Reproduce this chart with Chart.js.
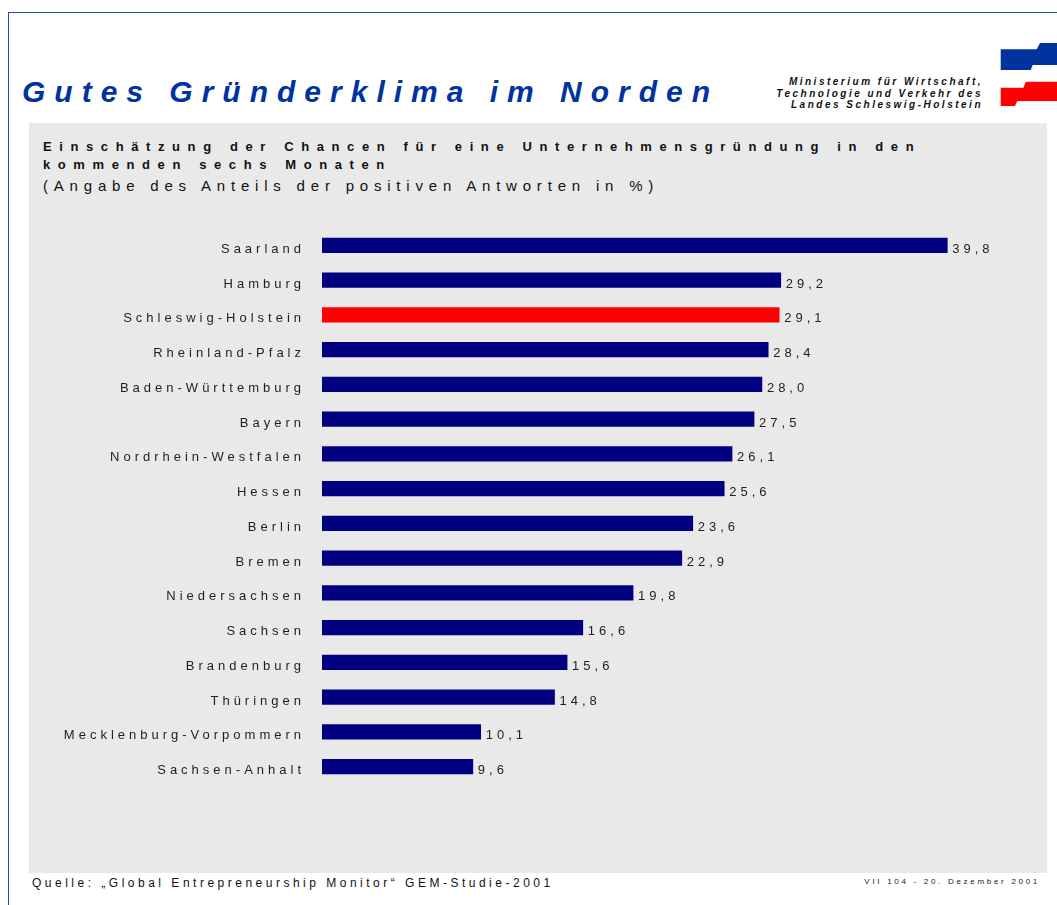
<!DOCTYPE html>
<html>
<head>
<meta charset="utf-8">
<script src="https://cdn.jsdelivr.net/npm/chart.js@4/dist/chart.umd.min.js"></script>
<style>
  body { margin: 0; background: #fff; font-family: "Liberation Sans", Arial, sans-serif; }
  #page { position: relative; width: 1057px; height: 905px; overflow: hidden; }
  .frame-top { position: absolute; left: 8px; top: 12px; width: 1049px; height: 0; border-top: 1.5px solid #2448a8; }
  .frame-left { position: absolute; left: 8px; top: 12px; width: 0; height: 893px; border-left: 1.5px solid #2448a8; }
  .abs { position: absolute; white-space: nowrap; }
  #title { left: 22px; top: 77px; font-size: 30px; line-height: 30px; font-weight: bold; font-style: italic;
           letter-spacing: 9px; color: #0033a0; }
  #ministry { left: 690px; width: 293px; top: 76px; font-size: 10px; line-height: 11.7px; font-weight: bold;
              font-style: italic; letter-spacing: 2.5px; color: #111; text-align: right; }
  #panel { position: absolute; left: 29px; top: 123px; width: 1018px; height: 750px; background: #e9e9e9; }
  #sub1 { left: 43px; top: 138px; font-size: 13px; line-height: 18px; font-weight: bold; letter-spacing: 7.6px; color: #111; }
  #sub2 { left: 43px; top: 176px; font-size: 15px; line-height: 19px; letter-spacing: 5.8px; color: #111; }
  #chart { position: absolute; left: 30px; top: 228px; }
  #source { left: 32px; top: 874px; font-size: 12px; line-height: 18px; letter-spacing: 3.5px; color: #111; }
  #date { left: 840px; width: 200px; text-align: right; top: 875px; font-size: 8px; line-height: 14px; letter-spacing: 2.7px; color: #222; }
</style>
</head>
<body>
<div id="page">
  <div class="frame-top"></div>
  <div class="frame-left"></div>

  <div id="title" class="abs">Gutes Gründerklima im Norden</div>
  <div id="ministry" class="abs">Ministerium für Wirtschaft,<br>Technologie und Verkehr des<br>Landes Schleswig-Holstein</div>

  <svg class="abs" style="left:990px;top:35px" width="67" height="80" viewBox="990 35 67 80">
    <polygon points="1040,43 1036.7,49.3 1000.7,49.3 1000.7,70 1030.7,70 1032.7,65 1057,65 1057,43" fill="#0033a0"/>
    <polygon points="1026,81.7 1023.3,87.7 1000.7,87.7 1000.7,106 1015,106 1017.3,101 1057,101 1057,81.7" fill="#ff0000"/>
  </svg>

  <div id="panel"></div>
  <div id="sub1" class="abs">Einschätzung der Chancen für eine Unternehmensgründung in den<br>kommenden sechs Monaten</div>
  <div id="sub2" class="abs">(Angabe des Anteils der positiven Antworten in %)</div>

  <canvas id="chart" width="1017" height="556"></canvas>

  <div id="source" class="abs">Quelle: „Global Entrepreneurship Monitor“ GEM-Studie-2001</div>
  <div id="date" class="abs">VII 104 - 20. Dezember 2001</div>
</div>

<script>
// data
const states = [
  'Saarland', 'Hamburg', 'Schleswig-Holstein', 'Rheinland-Pfalz', 'Baden-Württemburg',
  'Bayern', 'Nordrhein-Westfalen', 'Hessen', 'Berlin', 'Bremen', 'Niedersachsen',
  'Sachsen', 'Brandenburg', 'Thüringen', 'Mecklenburg-Vorpommern', 'Sachsen-Anhalt'
];
const positiveShare = [39.8, 29.2, 29.1, 28.4, 28.0, 27.5, 26.1, 25.6, 23.6, 22.9, 19.8, 16.6, 15.6, 14.8, 10.1, 9.6];
const highlighted = 'Schleswig-Holstein';

const navy = '#000080';
const red = '#ff0000';
const textColor = '#1e1e1e';
const labelFont = '13px "Liberation Sans", Arial, sans-serif';

const fmt = v => v.toFixed(1).replace('.', ',');

// canvas letter spacing for the category labels
const spacing = {
  id: 'spacing',
  beforeDraw(chart) {
    chart.ctx.letterSpacing = '4px';
  }
};

// value labels at the end of each bar
const valueLabels = {
  id: 'valueLabels',
  afterDatasetsDraw(chart) {
    const ctx = chart.ctx;
    const meta = chart.getDatasetMeta(0);
    ctx.save();
    ctx.font = labelFont;
    ctx.letterSpacing = '4px';
    ctx.fillStyle = textColor;
    ctx.textAlign = 'left';
    ctx.textBaseline = 'middle';
    meta.data.forEach((bar, i) => {
      ctx.fillText(fmt(positiveShare[i]), bar.x + 5, bar.y + 4);
    });
    ctx.restore();
  }
};

new Chart(document.getElementById('chart'), {
  type: 'bar',
  data: {
    labels: states,
    datasets: [{
      data: positiveShare,
      backgroundColor: states.map(s => s === highlighted ? red : navy),
      borderWidth: 0,
      barThickness: 14.5
    }]
  },
  options: {
    indexAxis: 'y',
    responsive: false,
    animation: false,
    devicePixelRatio: 1,
    layout: { padding: { left: 0, right: 18, top: 0, bottom: 0 } },
    plugins: {
      legend: { display: false },
      tooltip: { enabled: false }
    },
    scales: {
      x: {
        display: false,
        min: 0,
        max: 45
      },
      y: {
        afterFit(scale) {
          scale.width = 292;
          scale.paddingTop = 0;
          scale.paddingBottom = 0;
        },
        grid: { display: false, drawTicks: false },
        border: { display: false },
        ticks: {
          color: textColor,
          font: { family: '"Liberation Sans", Arial, sans-serif', size: 13 },
          padding: 17,
          labelOffset: 4
        }
      }
    }
  },
  plugins: [spacing, valueLabels]
});
</script>
</body>
</html>
